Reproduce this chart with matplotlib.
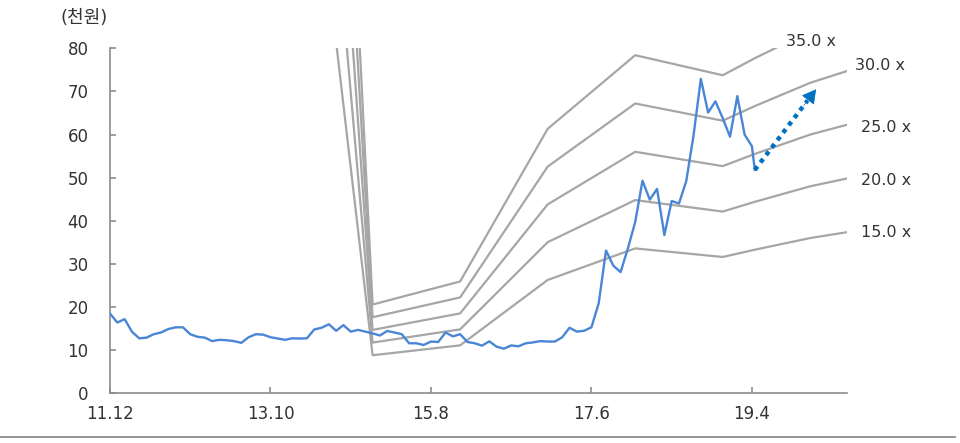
import numpy as np
import matplotlib
matplotlib.use('Agg')
import matplotlib.pyplot as plt

plt.rcParams['font.family'] = ['DejaVu Sans', 'Noto Sans CJK KR']

# month index 0 = 2011.12
tick_pos = [0, 22, 44, 66, 88]
tick_labels = ['11.12', '13.10', '15.8', '17.6', '19.4']

# monthly share price (thousand won), last point = latest
price_x = list(range(89)) + [88.4]
price = [18.5, 16.4, 17.2, 14.3, 12.75, 12.9, 13.7, 14.1, 14.9, 15.3,
         15.3, 13.7, 13.1, 12.9, 12.1, 12.4, 12.3, 12.1, 11.7, 13.0,
         13.7, 13.6, 13.0, 12.7, 12.4, 12.75, 12.7, 12.75, 14.8, 15.2,
         16.0, 14.5, 15.8, 14.3, 14.7, 14.3, 13.9, 13.4, 14.45, 14.1,
         13.7, 11.6, 11.6, 11.2, 12.0, 11.9, 14.1, 13.2, 13.7, 11.9,
         11.6, 11.05, 12.05, 10.8, 10.35, 11.1, 10.9, 11.6, 11.8, 12.1,
         12.0, 12.0, 13.0, 15.2, 14.3, 14.5, 15.3, 20.9, 33.1, 29.6,
         28.1, 33.6, 39.7, 49.3, 44.9, 47.4, 36.7, 44.6, 44.0, 49.2,
         59.8, 72.9, 65.1, 67.7, 63.8, 59.5, 68.9, 60.0, 57.3, 51.8]

# EPS (thousand won) used for the PER band
eps_x = [24, 36, 48, 60, 72, 84, 88.4, 96, 101]
eps = [12.2, 0.588, 0.741, 1.752, 2.24, 2.107, 2.22, 2.40, 2.49]
multiples = [15.0, 20.0, 25.0, 30.0, 35.0]

# label positions for band multiples
band_label_x = [103.0, 103.0, 103.0, 102.2, 92.7]
band_label_y = [37.2, 49.3, 61.6, 76.0, 81.6]

fig = plt.figure(figsize=(9.6, 4.43), dpi=100)
ax = fig.add_axes([0.1146, 0.1122, 0.7674, 0.7788])

eps_arr = np.array(eps)
for m in multiples:
    ax.plot(eps_x, eps_arr * m, color='#a6a6a6', lw=1.6, zorder=2)

ax.plot(price_x, price, color='#4a86d6', lw=1.7, zorder=3)

for m, lx, ly in zip(multiples, band_label_x, band_label_y):
    ax.text(lx, ly, '%.1f x' % m, fontsize=11.5, color='#333333',
            ha='left', va='center', clip_on=False)

# expected upside arrow
x0, y0 = price_x[-1], price[-1]
x1, y1 = 96.8, 70.5
ax.plot([x0, x0 + (x1 - x0) * 0.86], [y0, y0 + (y1 - y0) * 0.86],
        color='#0070c0', lw=3.2, linestyle=(0, (1, 1.1)),
        dash_capstyle='butt', zorder=4)
ax.annotate('', xy=(x1, y1), xytext=(x0 + (x1 - x0) * 0.8, y0 + (y1 - y0) * 0.8),
            arrowprops=dict(arrowstyle='-|>,head_length=0.9,head_width=0.5',
                            color='#0070c0', lw=0.5, shrinkA=0, shrinkB=0),
            zorder=5)

ax.set_xlim(0, 101)
ax.set_ylim(0, 80)
ax.set_yticks(range(0, 81, 10))
ax.set_xticks(tick_pos)
ax.set_xticklabels(tick_labels)

for s in ['top', 'right']:
    ax.spines[s].set_visible(False)
for s in ['left', 'bottom']:
    ax.spines[s].set_color('#8c8c8c')
    ax.spines[s].set_linewidth(1.2)

ax.tick_params(axis='both', direction='in', length=4, width=1.2,
               color='#8c8c8c', labelsize=12, labelcolor='#333333')
ax.tick_params(axis='y', pad=15.5)
ax.tick_params(axis='x', pad=8.5)

fig.text(60 / 960, 1 - 18.3 / 443, '(천원)', fontsize=13, color='#333333',
         ha='left', va='center')

# separator rule under the chart
fig.add_artist(plt.Line2D([0.0, 0.995], [0.0135, 0.0135], color='#8c8c8c',
                          lw=1.3, transform=fig.transFigure))

fig.savefig('out.png', dpi=100)
